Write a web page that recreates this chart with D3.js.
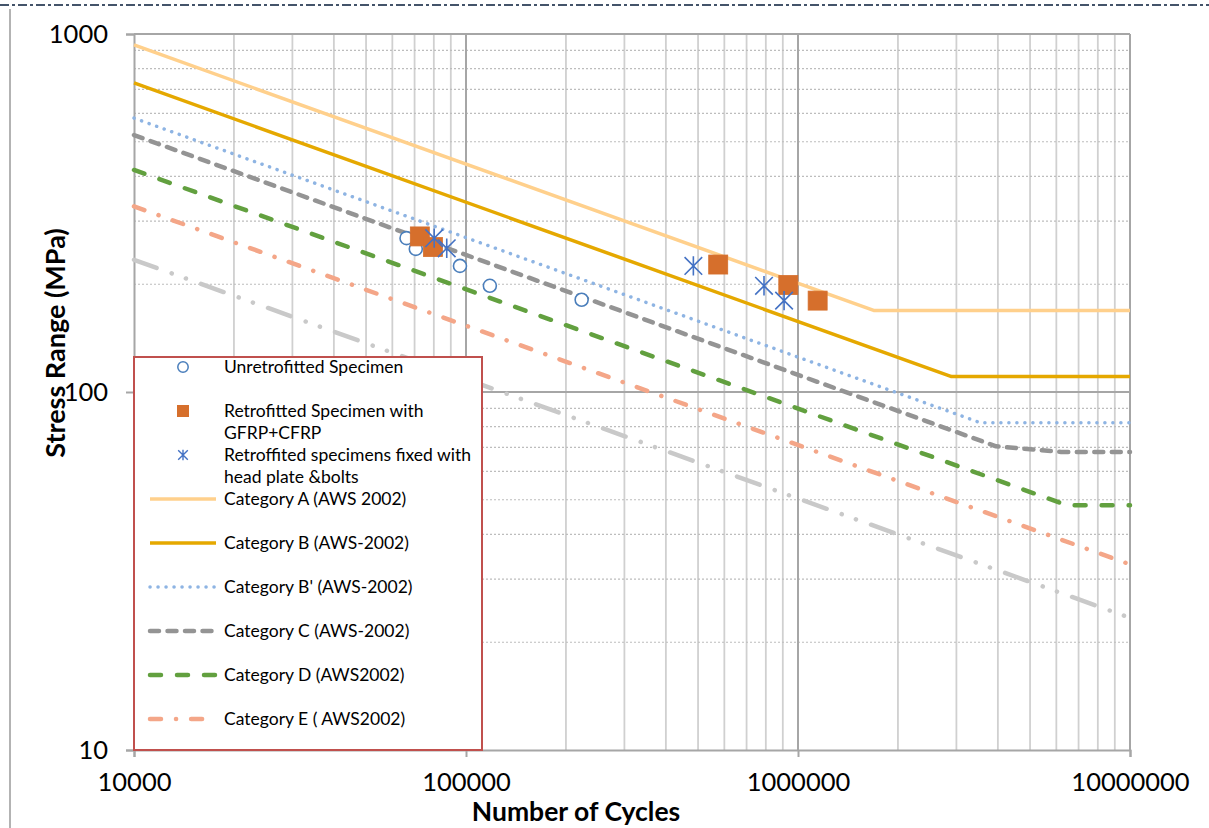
<!DOCTYPE html>
<html><head><meta charset="utf-8">
<script src="https://cdn.jsdelivr.net/npm/d3@7"></script>
<style>
body{margin:0;background:#fff;}
svg{display:block;}
text{font-family:Lato,"Liberation Sans",sans-serif;fill:#000;}
</style>
</head><body>
<svg id="chart" width="1209" height="828"></svg>
<script>
// ---- data ----
const unretrofittedN = [66200, 70600, 95900, 118000, 223000];
const unretrofittedS = [269, 251, 225, 198, 181];
const gfrpN = [72600, 79500, 575000, 935000, 1146000];
const gfrpS = [272, 254, 227, 199, 180];
const boltedN = [80200, 87500, 484000, 790000, 908000];
const boltedS = [269, 252, 225, 198, 180];

const catA_N = [1e4, 1.69e6, 1e7];           const catA_S = [932, 169, 169];
const catB_N = [1e4, 2.9e6, 1e7];            const catB_S = [730, 110.4, 110.4];
const catBp_N = [1e4, 3.55e6, 1e7];          const catBp_S = [582, 82, 82];
const catC_N = [1e4, 3.95e6, 6.2e6, 1e7];    const catC_S = [522, 70.5, 68, 68];
const catD_N = [1e4, 6.45e6, 1e7];           const catD_S = [417, 48.3, 48.3];
const catE_N = [1e4, 1e7];                   const catE_S = [330, 33];
const catEp_N = [1e4, 1e7];                  const catEp_S = [234, 23.4];

const xTickValues = [1e4, 1e5, 1e6, 1e7];
const xTickLabels = ["10000", "100000", "1000000", "10000000"];
const yTickValues = [10, 100, 1000];
const yTickLabels = ["10", "100", "1000"];

const xTitle = "Number of Cycles";
const yTitle = "Stress Range (MPa)";
const legendLabels = [
  ["Unretrofitted Specimen"],
  ["Retrofitted Specimen with", "GFRP+CFRP"],
  ["Retroffited specimens fixed with", "head plate &bolts"],
  ["Category A (AWS 2002)"],
  ["Category B (AWS-2002)"],
  ["Category B' (AWS-2002)"],
  ["Category C (AWS-2002)"],
  ["Category D (AWS2002)"],
  ["Category E ( AWS2002)"]
];

// ---- layout / styles ----
const L = 134, R = 1130, T = 34, B = 750;
const svg = d3.select("#chart");
const x = d3.scaleLog().domain([1e4, 1e7]).range([L, R]);
const y = d3.scaleLog().domain([10, 1000]).range([B, T]);

// outer chart border
svg.append("line").attr("x1", 0).attr("x2", 1209).attr("y1", 5).attr("y2", 5)
  .attr("stroke", "#44546A").attr("stroke-width", 2).attr("stroke-dasharray", "9 3 3 3");
svg.append("line").attr("x1", 10).attr("x2", 10).attr("y1", 9).attr("y2", 828)
  .attr("stroke", "#9a9a9a").attr("stroke-width", 1.5);

// gridlines
const minorX = [], minorY = [];
[1e4, 1e5, 1e6].forEach(d => { for (let k = 2; k <= 9; k++) minorX.push(k * d); });
[10, 100].forEach(d => { for (let k = 2; k <= 9; k++) minorY.push(k * d); });
const grid = svg.append("g");
grid.selectAll(".mx").data(minorX).join("line")
  .attr("x1", d => x(d)).attr("x2", d => x(d)).attr("y1", T).attr("y2", B)
  .attr("stroke", "#d0d0d0").attr("stroke-width", 1.8);
grid.selectAll(".my").data(minorY).join("line")
  .attr("x1", L).attr("x2", R).attr("y1", d => y(d)).attr("y2", d => y(d))
  .attr("stroke", "#bdbdbd").attr("stroke-width", 1.2).attr("stroke-dasharray", "2 2");
grid.selectAll(".Mx").data([1e5, 1e6, 1e7]).join("line")
  .attr("x1", d => x(d)).attr("x2", d => x(d)).attr("y1", T).attr("y2", B)
  .attr("stroke", "#a6a6a6").attr("stroke-width", 2);
grid.selectAll(".My").data([100, 1000]).join("line")
  .attr("x1", L).attr("x2", R).attr("y1", d => y(d)).attr("y2", d => y(d))
  .attr("stroke", "#a6a6a6").attr("stroke-width", 2);

// axes
const xAxis = svg.append("g").attr("transform", `translate(0,${B})`)
  .call(d3.axisBottom(x).tickValues(xTickValues).tickSize(7).tickFormat((d, i) => xTickLabels[i]));
const yAxis = svg.append("g").attr("transform", `translate(${L},0)`)
  .call(d3.axisLeft(y).tickValues(yTickValues).tickSize(8).tickFormat((d, i) => yTickLabels[i]));
[xAxis, yAxis].forEach(a => {
  a.select(".domain").attr("stroke", "#a6a6a6").attr("stroke-width", 2);
  a.selectAll(".tick line").attr("stroke", "#a6a6a6").attr("stroke-width", 2);
  a.selectAll(".tick text").attr("font-family", "Lato, sans-serif").attr("font-size", 25.5).attr("fill", "#000");
});
xAxis.selectAll(".tick text").attr("y", 23).attr("dy", "0.71em");
yAxis.selectAll(".tick text").attr("x", -26).attr("dy", "0.35em");

// series lines
const seriesStyles = [
  { n: catA_N, s: catA_S, color: "#FFD08C", w: 3.5, dash: null, cap: "butt" },
  { n: catB_N, s: catB_S, color: "#E5A800", w: 3.5, dash: null, cap: "butt" },
  { n: catBp_N, s: catBp_S, color: "#8EB4E3", w: 3.5, dash: "0.1 7.9", cap: "round" },
  { n: catC_N, s: catC_S, color: "#949494", w: 4.5, dash: "9 8.5", cap: "round" },
  { n: catD_N, s: catD_S, color: "#62A03F", w: 4.5, dash: "11 16", cap: "round" },
  { n: catE_N, s: catE_S, color: "#F4A688", w: 4.5, dash: "11 15 0.1 15", cap: "round" },
  { n: catEp_N, s: catEp_S, color: "#C9C9C9", w: 4.5, dash: "24 16 0.1 15 0.1 16", cap: "round" }
];
const lineGen = d3.line().x(d => x(d[0])).y(d => y(d[1]));
const linesG = svg.append("g");
seriesStyles.forEach(st => {
  linesG.append("path").datum(st.n.map((v, i) => [v, st.s[i]]))
    .attr("d", lineGen).attr("fill", "none").attr("stroke", st.color)
    .attr("stroke-width", st.w).attr("stroke-dasharray", st.dash)
    .attr("stroke-linecap", st.cap).attr("stroke-linejoin", "round");
});

// markers
const starPath = r => `M0,${-r * 1.1}V${r * 1.1}M${-r},${-r}L${r},${r}M${r},${-r}L${-r},${r}`;
const markG = svg.append("g");
markG.selectAll(".c").data(unretrofittedN.map((v, i) => [v, unretrofittedS[i]])).join("circle")
  .attr("cx", d => x(d[0])).attr("cy", d => y(d[1])).attr("r", 6.5)
  .attr("fill", "#fff").attr("stroke", "#4A7EBB").attr("stroke-width", 1.6);
markG.selectAll(".s").data(gfrpN.map((v, i) => [v, gfrpS[i]])).join("rect")
  .attr("x", d => x(d[0]) - 9.5).attr("y", d => y(d[1]) - 9.5).attr("width", 19).attr("height", 19)
  .attr("fill", "#D66F2C").attr("stroke", "#D66F2C").attr("stroke-width", 0.8);
markG.selectAll(".a").data(boltedN.map((v, i) => [v, boltedS[i]])).join("path")
  .attr("transform", d => `translate(${x(d[0])},${y(d[1])})`).attr("d", starPath(8.8))
  .attr("fill", "none").attr("stroke", "#4472C4").attr("stroke-width", 1.6);

// axis titles
svg.append("text").attr("x", 576).attr("y", 821).attr("text-anchor", "middle")
  .attr("font-size", 26.5).attr("font-weight", "bold").text(xTitle);
svg.append("text").attr("transform", "translate(65,343) rotate(-90)").attr("text-anchor", "middle")
  .attr("font-size", 27).attr("font-weight", "bold").text(yTitle);

// legend
const lg = svg.append("g");
lg.append("rect").attr("x", 134).attr("y", 357).attr("width", 348).attr("height", 393)
  .attr("fill", "#fff").attr("stroke", "#C0504D").attr("stroke-width", 2);
legendLabels.forEach((lines, i) => {
  const cy = 367 + i * 44;
  const g = lg.append("g");
  if (i === 0) {
    g.append("circle").attr("cx", 183).attr("cy", cy).attr("r", 5.2)
      .attr("fill", "#fff").attr("stroke", "#4A7EBB").attr("stroke-width", 1.5);
  } else if (i === 1) {
    g.append("rect").attr("x", 177).attr("y", cy - 6).attr("width", 12).attr("height", 12).attr("fill", "#D66F2C");
  } else if (i === 2) {
    g.append("path").attr("transform", `translate(183,${cy})`).attr("d", starPath(4.8))
      .attr("fill", "none").attr("stroke", "#4472C4").attr("stroke-width", 1.4);
  } else {
    const st = seriesStyles[i - 3];
    g.append("line").attr("x1", 150).attr("x2", 216).attr("y1", cy).attr("y2", cy)
      .attr("stroke", st.color).attr("stroke-width", st.w).attr("stroke-dasharray", st.dash)
      .attr("stroke-linecap", st.cap);
  }
  lines.forEach((t, j) => {
    g.append("text").attr("x", 224).attr("y", cy + 6 + j * 22).attr("font-size", 17.5).text(t);
  });
});
</script>
</body></html>
